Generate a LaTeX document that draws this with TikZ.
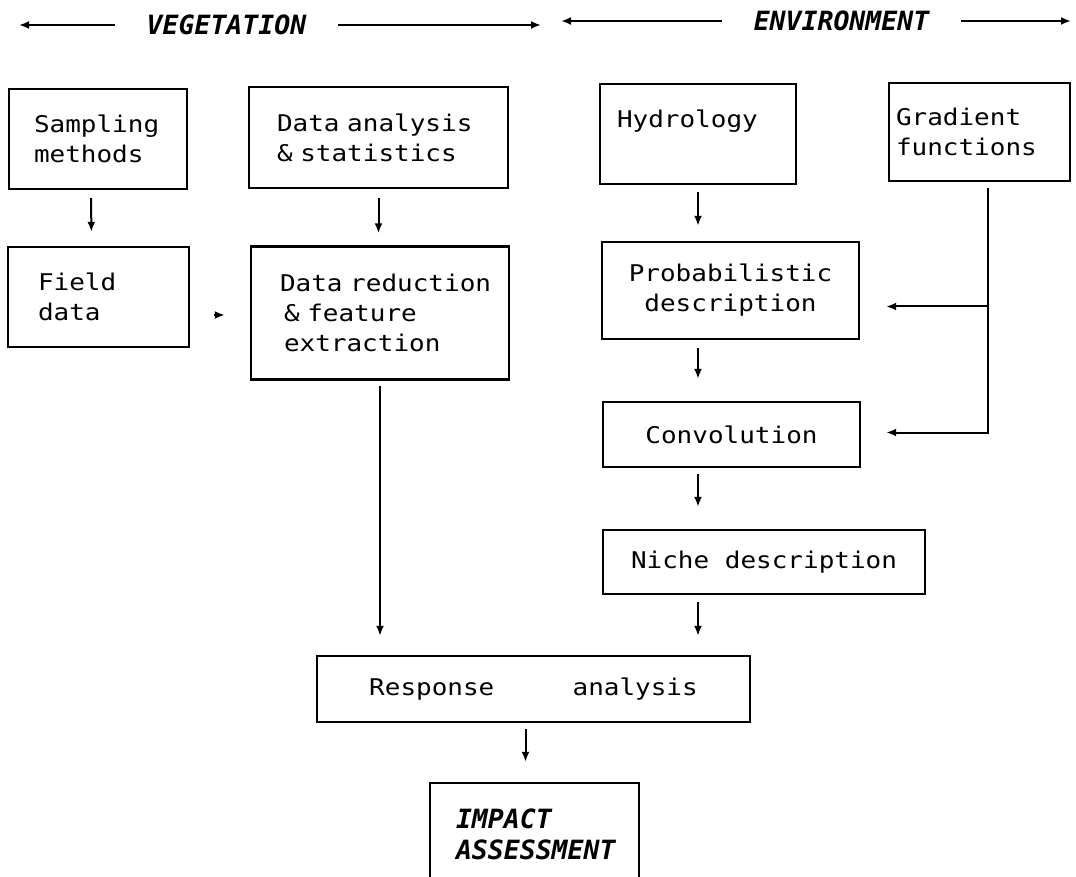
\documentclass[tikz,border=0pt]{standalone}
\usepackage{fontspec}
\newfontfamily\boxfont[FakeStretch=1.13]{DejaVu Sans Mono}
\newfontfamily\headfont{DejaVu Sans Mono}
\usetikzlibrary{arrows.meta}

\begin{document}
\begin{tikzpicture}[x=1pt, y=-1pt,
  box/.style={draw, line width=2.4pt, align=left, inner sep=0pt,
    font=\boxfont\fontsize{23}{30}\selectfont},
  head/.style={inner sep=0pt, outer xsep=32pt,
    font=\headfont\bfseries\itshape\fontsize{26.5}{31}\selectfont},
  arrow/.style={-{Latex[length=10pt,width=8pt]}, line width=2pt}
]
\useasboundingbox (0,0) rectangle (1076,877);
\clip (0,0) rectangle (1076,877);

% Headings
\node[head] (veg) at (226.5,25) {VEGETATION};
\node[head] (env) at (841.5,21) {ENVIRONMENT};
\coordinate (vegL) at (19,25);
\coordinate (vegR) at (541,25);
\coordinate (envL) at (561,21);
\coordinate (envR) at (1071,21);
\draw[arrow] (veg.west) -- (vegL);
\draw[arrow] (veg.east) -- (vegR);
\draw[arrow] (env.west) -- (envL);
\draw[arrow] (env.east) -- (envR);

% Vegetation side
\node[box, minimum width=178pt, minimum height=100pt, text width=128pt]
  (samp) at (98,139) {\mbox{Sampling}\\\mbox{methods}};
\node[box, minimum width=259pt, minimum height=101pt, text width=203pt]
  (anal) at (378.5,137.5) {\mbox{Data~analysis}\\\mbox{\&~statistics}};
\node[box, minimum width=181pt, minimum height=100pt, text width=121pt]
  (field) at (98.5,297) {\mbox{Field}\\\mbox{data}};
\node[box, minimum width=258pt, minimum height=133pt, text width=200pt]
  (reduc) at (380,313) {\mbox{Data~reduction}\\\hspace*{4pt}\mbox{\&~feature}\\\hspace*{4pt}\mbox{extraction}};

% Environment side
\node[box, minimum width=196pt, minimum height=100pt, text width=162pt]
  (hydro) at (698,134) {\mbox{Hydrology}\\~};
\node[box, minimum width=181pt, minimum height=98pt, text width=167pt]
  (grad) at (979.5,132) {\mbox{Gradient}\\\mbox{functions}};
\node[box, align=center, minimum width=257pt, minimum height=97pt]
  (prob) at (730.5,290.5) {Probabilistic\\description};
\node[box, align=center, minimum width=257pt, minimum height=65pt]
  (conv) at (731.5,434.5) {Convolution};
\node[box, align=center, minimum width=322pt, minimum height=64pt]
  (niche) at (764,562) {Niche~description};

% Synthesis
\node[box, align=center, minimum width=433pt, minimum height=66pt]
  (resp) at (533.5,689) {Response~~~~~analysis};
\node[box, minimum width=209pt, minimum height=103.5pt, text width=157pt,
  font=\headfont\bfseries\itshape\fontsize{26.5}{31}\selectfont]
  (impact) at (534.5,834.75) {\mbox{IMPACT}\\\mbox{ASSESSMENT}};

% Arrows
\coordinate (fieldout) at ([yshift=-18pt]field.east);
\coordinate (respout) at ([xshift=-8pt]resp.south);
\draw[arrow, shorten <=8pt, shorten >=14pt] ([xshift=-7pt]samp.south) -- ([xshift=-7pt]field.north);
\draw[arrow, shorten <=9pt, shorten >=12pt] (anal.south) -- (anal.south |- reduc.north);
\draw[arrow, shorten <=24pt, shorten >=25pt] (fieldout) -- (fieldout -| reduc.west);
\draw[arrow, shorten <=5pt, shorten >=19pt] (reduc.south) -- (reduc.south |- resp.north);
\draw[arrow, shorten <=7pt, shorten >=15pt] (hydro.south) -- (hydro.south |- prob.north);
\draw[arrow, shorten <=8pt, shorten >=22pt] (prob.south -| hydro.south) -- (conv.north -| hydro.south);
\draw[arrow, shorten <=6pt, shorten >=22pt] (conv.south -| hydro.south) -- (niche.north -| hydro.south);
\draw[arrow, shorten <=7pt, shorten >=19pt] (niche.south -| hydro.south) -- (resp.north -| hydro.south);
\draw[arrow, shorten <=6pt, shorten >=20pt] (respout) -- (respout |- impact.north);

% Gradient feed
\coordinate (gradx) at ([xshift=8.5pt,yshift=-6pt]grad.south);
\coordinate (probin) at ([xshift=26pt,yshift=-16pt]prob.east);
\coordinate (convin) at ([xshift=25pt,yshift=2pt]conv.east);
\draw[arrow] (gradx) |- (convin);
\draw[arrow] (gradx |- probin) -- (probin);
\end{tikzpicture}
\end{document}
